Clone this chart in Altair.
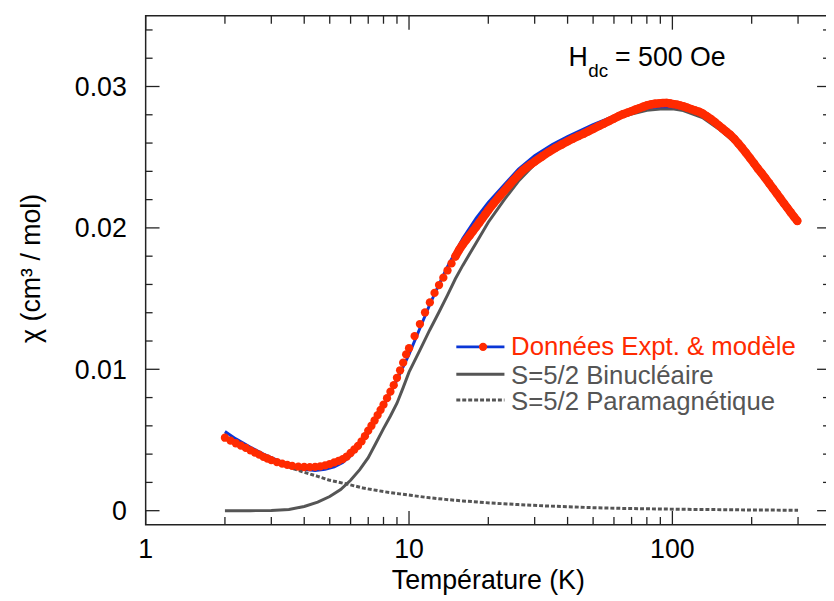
import altair as alt
import pandas as pd

# ---------------- data ----------------
exp_T = [2.0, 2.1, 2.2, 2.3, 2.4, 2.5, 2.6, 2.7, 2.8, 2.9,
         3.0, 3.15, 3.3, 3.45, 3.6, 3.8, 4.0, 4.2, 4.4, 4.6,
         4.8, 5.0, 5.2, 5.4, 5.6, 5.8, 6.0, 6.2, 6.4, 6.6,
         6.8, 7.0, 7.2, 7.4, 7.6, 7.8, 8.0, 8.25, 8.5, 8.75,
         9.0, 9.25, 9.5, 9.75, 10.0, 10.5, 11.0, 11.5, 12.0, 12.5,
         13.0, 13.5, 14.0, 14.5, 15.0, 15.5, 16.0, 16.5, 17.0, 17.5,
         18.0, 18.5, 19.0, 19.5, 20, 21, 22, 23, 24, 25,
         26, 27, 28, 29, 30, 32, 34, 36, 38, 40,
         42, 44, 46, 48, 50, 52.5, 55, 57.5, 60, 62.5,
         65, 67.5, 70, 72.5, 75, 77.5, 80, 83, 86, 89,
         92, 95, 98, 101, 104, 107, 110, 114, 118, 122,
         126, 130, 135, 140, 145, 150, 155, 160, 166, 172,
         178, 184, 190, 197, 204, 211, 218, 225, 233, 241,
         249, 257, 265, 273, 281, 290, 298]
exp_chi = [0.00516, 0.00496, 0.00477, 0.00460, 0.00444, 0.00427, 0.00411, 0.00396, 0.00381, 0.00369,
           0.00358, 0.00344, 0.00333, 0.00324, 0.00317, 0.00312, 0.00309, 0.00308, 0.00310, 0.00313,
           0.00320, 0.00330, 0.00341, 0.00352, 0.00365, 0.00383, 0.00408, 0.00433, 0.00458, 0.00490,
           0.00527, 0.00566, 0.00601, 0.00638, 0.00676, 0.00713, 0.00750, 0.00796, 0.00842, 0.00888,
           0.00940, 0.00993, 0.01047, 0.01105, 0.01149, 0.01235, 0.01320, 0.01402, 0.01473, 0.01540,
           0.01596, 0.01648, 0.01699, 0.01749, 0.01798, 0.01845, 0.01883, 0.01916, 0.01947, 0.01978,
           0.02008, 0.02038, 0.02068, 0.02097, 0.02125, 0.02175, 0.02220, 0.02262, 0.02302, 0.02340,
           0.02374, 0.02405, 0.02428, 0.02449, 0.02469, 0.02505, 0.02538, 0.02566, 0.02590, 0.02612,
           0.02632, 0.02650, 0.02666, 0.02683, 0.02700, 0.02720, 0.02738, 0.02756, 0.02773, 0.02790,
           0.02804, 0.02815, 0.02826, 0.02837, 0.02847, 0.02857, 0.02867, 0.02873, 0.02878, 0.02881,
           0.02883, 0.02884, 0.02880, 0.02876, 0.02872, 0.02866, 0.02860, 0.02850, 0.02840, 0.02831,
           0.02822, 0.02810, 0.02790, 0.02770, 0.02748, 0.02725, 0.02703, 0.02682, 0.02658, 0.02629,
           0.02597, 0.02565, 0.02532, 0.02494, 0.02457, 0.02420, 0.02387, 0.02354, 0.02316, 0.02279,
           0.02243, 0.02208, 0.02174, 0.02142, 0.02111, 0.02077, 0.02049]

model_T = [2.0, 2.2, 2.5, 2.8, 3.2, 3.6, 4.0, 4.4, 4.8, 5.2,
           5.6, 6.0, 6.5, 7.0, 7.5, 8.0, 9.0, 10, 11, 12,
           13, 14, 15, 16, 18, 20, 23, 26, 30, 35,
           40, 50, 60, 70, 80, 90, 100, 110, 130, 150,
           175, 200, 250, 300]
model_chi = [0.00560, 0.00508, 0.00448, 0.00400, 0.00352, 0.00318, 0.00292, 0.00285, 0.00292, 0.00310,
             0.00340, 0.00388, 0.00460, 0.00548, 0.00642, 0.00738, 0.00925, 0.01105, 0.01290, 0.01460,
             0.01600, 0.01725, 0.01830, 0.01925, 0.02070, 0.02180, 0.02305, 0.02415, 0.02510, 0.02590,
             0.02645, 0.02730, 0.02790, 0.02822, 0.02848, 0.02858, 0.02856, 0.02845, 0.02795, 0.02718,
             0.02610, 0.02473, 0.02238, 0.02040]

binuc_T = [2.0, 2.5, 3.0, 3.5, 4.0, 4.5, 5.0, 5.5, 6.0, 6.5,
           7.0, 7.5, 8.0, 8.5, 9.0, 9.5, 10, 11, 12, 13,
           14, 15, 16, 18, 20, 23, 26, 30, 35, 40,
           50, 60, 70, 80, 90, 100, 110, 130, 150, 175,
           200, 250, 300]
binuc_chi = [0.0, 0.0, 0.00002, 0.00008, 0.00030, 0.00060, 0.00100, 0.00150, 0.00215, 0.00290,
             0.00375, 0.00480, 0.00580, 0.00670, 0.00760, 0.00870, 0.00980, 0.01135, 0.01280, 0.01405,
             0.01525, 0.01640, 0.01735, 0.01895, 0.02040, 0.02200, 0.02330, 0.02450, 0.02545, 0.02610,
             0.02705, 0.02770, 0.02805, 0.02832, 0.02840, 0.02843, 0.02830, 0.02780, 0.02700, 0.02595,
             0.02465, 0.02230, 0.02035]

para_T = [2.0, 2.25, 2.5, 2.75, 3.0, 3.3, 3.65, 4.0, 4.5, 5.0,
          5.8, 6.7, 8.0, 9.2, 10.3, 12, 13.7, 16, 20.6, 26,
          32.6, 40, 50.5, 65, 90, 119, 160, 200, 250, 300]
para_chi = [0.00550, 0.00489, 0.00440, 0.00400, 0.00367, 0.00333, 0.00296, 0.00272, 0.00243, 0.00215,
            0.00189, 0.00160, 0.00135, 0.00119, 0.00107, 0.00091, 0.00080, 0.00069, 0.00054, 0.00043,
            0.00034, 0.00028, 0.00021, 0.00016, 0.00012, 0.00009, 0.00007, 0.00005, 0.00004, 0.00003]

x_major = [1, 10, 100]
x_major_labels = ["1", "10", "100"]
x_minor = [2, 3, 4, 5, 6, 7, 8, 9, 20, 30, 40, 50, 60, 70, 80, 90, 200, 300]
y_major = [0, 0.01, 0.02, 0.03]
y_major_labels = ["0", "0.01", "0.02", "0.03"]
y_minor = [0.002, 0.004, 0.006, 0.008, 0.012, 0.014, 0.016, 0.018,
           0.022, 0.024, 0.026, 0.028, 0.032, 0.034]

legend_labels = ["Données Expt. & modèle", "S=5/2 Binucléaire", "S=5/2 Paramagnétique"]
x_title = "Température (K)"
y_title = "χ (cm³ / mol)"

# ---------------- styling ----------------
W, H = 692, 514
FONT = "Liberation Sans"
RED = "#ff2a00"
BLUE = "#0a36d6"
GRAY = "#555555"
AX = "#222222"
FS = 27
LFS = 26

xs = alt.Scale(type="log", domain=[1, 400])
ys = alt.Scale(domain=[-0.001, 0.035])

exp_df = pd.DataFrame({"T": exp_T, "chi": exp_chi})
model_df = pd.DataFrame({"T": model_T, "chi": model_chi})
binuc_df = pd.DataFrame({"T": binuc_T, "chi": binuc_chi})
para_df = pd.DataFrame({"T": para_T, "chi": para_chi})
one = pd.DataFrame({"k": [0]})

X = alt.X("T:Q", scale=xs, axis=None)
Y = alt.Y("chi:Q", scale=ys, axis=None)

para = alt.Chart(para_df).mark_line(color=GRAY, strokeWidth=3, strokeDash=[4, 2]).encode(x=X, y=Y)
binuc = alt.Chart(binuc_df).mark_line(color=GRAY, strokeWidth=3).encode(x=X, y=Y)
model = alt.Chart(model_df).mark_line(color=BLUE, strokeWidth=3).encode(x=X, y=Y)
exp_band = alt.Chart(exp_df).transform_filter(alt.datum.T >= 15).mark_line(
    color=RED, strokeWidth=8.5, strokeCap="round", strokeJoin="round").encode(x=X, y=Y)
exp = alt.Chart(exp_df).mark_circle(color=RED, size=70, opacity=1).encode(x=X, y=Y)


def xticks(vals, y0, y1):
    return alt.Chart(pd.DataFrame({"v": vals})).mark_rule(color=AX, strokeWidth=1.3).encode(
        x=alt.X("v:Q", scale=xs, axis=None), y=alt.value(y0), y2=alt.value(y1))


def yticks(vals, x0, x1):
    return alt.Chart(pd.DataFrame({"v": vals})).mark_rule(color=AX, strokeWidth=1.3).encode(
        y=alt.Y("v:Q", scale=ys, axis=None), x=alt.value(x0), x2=alt.value(x1))


ticks = [
    xticks(x_major, H, H - 14), xticks(x_minor, H, H - 8),
    xticks(x_major, 0, 14), xticks(x_minor, 0, 8),
    yticks(y_major, 0, 14), yticks(y_minor, 0, 7),
    yticks(y_major, W, W - 14), yticks(y_minor, W, W - 8),
]

# tick labels placed through the scales
xlab = alt.Chart(pd.DataFrame({"v": x_major, "t": x_major_labels})).mark_text(
    align="center", baseline="alphabetic", font=FONT, fontSize=FS, color="#000").encode(
    x=alt.X("v:Q", scale=xs, axis=None), y=alt.value(H + 33), text="t:N")
ylab = alt.Chart(pd.DataFrame({"v": y_major, "t": y_major_labels})).mark_text(
    align="right", baseline="alphabetic", dy=9.5, font=FONT, fontSize=FS, color="#000").encode(
    y=alt.Y("v:Q", scale=ys, axis=None), x=alt.value(-19), text="t:N")


def txt(s, x, y, size, color, **kw):
    return alt.Chart(one).mark_text(align="left", baseline="alphabetic", font=FONT,
                                    fontSize=size, color=color, **kw).encode(
        x=alt.value(x), y=alt.value(y), text=alt.value(s))


xtitle = alt.Chart(one).mark_text(align="center", baseline="alphabetic", font=FONT,
                                  fontSize=FS, color="#000").encode(
    x=alt.value(W / 2), y=alt.value(H + 65), text=alt.value(x_title))
ytitle = alt.Chart(one).mark_text(align="center", baseline="middle", angle=270, font=FONT,
                                  fontSize=FS, color="#000").encode(
    x=alt.value(-115), y=alt.value(255), text=alt.value(y_title))


def seg(x0, x1, y, color, dash=None):
    kw = dict(color=color, strokeWidth=3)
    if dash:
        kw["strokeDash"] = dash
    return alt.Chart(one).mark_rule(**kw).encode(x=alt.value(x0), x2=alt.value(x1), y=alt.value(y))


legend = [
    seg(313.7, 362.3, 334.3, BLUE),
    alt.Chart(one).mark_circle(color=RED, size=70, opacity=1).encode(
        x=alt.value(340.7), y=alt.value(334.3)),
    txt(legend_labels[0], 369, 343, LFS, RED),
    seg(313.7, 362.3, 362, GRAY),
    txt(legend_labels[1], 369, 371.5, LFS, GRAY),
    seg(313.7, 362.3, 388, GRAY, [4, 2]),
    txt(legend_labels[2], 369, 398.5, LFS, GRAY),
]

annot = [
    txt("H", 427, 50.3, FS, "#000"),
    txt("dc", 447, 62, 19, "#000"),
    txt("= 500 Oe", 474, 50.3, FS, "#000"),
]

chart = alt.layer(para, binuc, model, exp_band, exp, *ticks, xlab, ylab, xtitle, ytitle,
                  *legend, *annot).properties(
    width=W, height=H,
    padding={"left": 139, "top": 5, "right": -5, "bottom": 70},
    autosize=alt.AutoSizeParams(type="none"),
).configure_view(stroke=AX, strokeWidth=1.5)

chart.save("out.html", embed_options={"renderer": "svg", "actions": False})
